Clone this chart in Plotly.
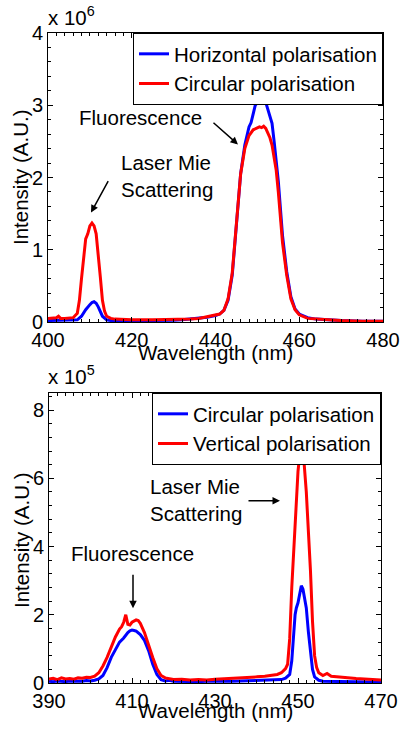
import plotly.graph_objects as go

W, H = 401, 733

# ---------------- Top panel data (intensity in units of 1e6) ----------------
top_wl_h = [400, 401, 402, 403, 404, 405, 406, 407, 408, 409, 410, 410.5, 411, 411.5, 412, 413, 414, 415,
            418, 422, 426, 430, 432, 434, 436, 438, 440, 441, 442, 443, 444, 445, 446, 447, 448, 448.5,
            449, 449.5, 450, 450.5, 451, 451.5, 452, 452.5, 453, 453.5, 454, 454.5, 455, 456, 457, 458,
            459, 460, 462, 464, 466, 470, 475, 480]
top_horizontal = [0.02, 0.02, 0.02, 0.02, 0.02, 0.02, 0.02, 0.03, 0.08, 0.17, 0.24, 0.27, 0.28, 0.26, 0.21,
                  0.08, 0.03, 0.02, 0.015, 0.015, 0.02, 0.025, 0.03, 0.04, 0.05, 0.065, 0.09, 0.11, 0.16,
                  0.3, 0.65, 1.35, 2.05, 2.45, 2.7, 2.76, 2.9, 3.0, 3.04, 3.06, 3.04, 3.06, 3.04, 2.95, 2.85,
                  2.75, 2.5, 2.2, 1.95, 1.2, 0.7, 0.35, 0.18, 0.11, 0.06, 0.04, 0.03, 0.02, 0.01, 0.01]

top_wl_c = [400, 401, 402, 402.5, 403, 404, 405, 406, 407, 407.5, 408, 408.5, 409, 409.5, 410, 410.5, 411,
            411.5, 412, 412.5, 413, 413.5, 414, 415, 416, 420, 425, 430, 434, 436, 438, 440, 441, 442, 443,
            444, 445, 446, 447, 448, 449, 450, 450.5, 451, 451.5, 452, 453, 453.5, 454, 454.5, 455, 456,
            457, 458, 459, 460, 462, 464, 466, 470, 475, 480]
top_circular = [0.05, 0.05, 0.06, 0.08, 0.05, 0.05, 0.05, 0.06, 0.12, 0.3, 0.6, 0.92, 1.15, 1.22, 1.33, 1.37,
                1.33, 1.22, 0.95, 0.62, 0.3, 0.15, 0.08, 0.05, 0.04, 0.03, 0.03, 0.03, 0.04, 0.05, 0.07,
                0.09, 0.11, 0.16, 0.32, 0.68, 1.4, 2.05, 2.4, 2.58, 2.66, 2.68, 2.7, 2.69, 2.71, 2.68, 2.55,
                2.45, 2.3, 2.1, 1.8, 1.1, 0.65, 0.32, 0.17, 0.1, 0.05, 0.04, 0.03, 0.02, 0.01, 0.01]

# ---------------- Bottom panel data (intensity in units of 1e5) ----------------
bot_wl_c = [390, 391, 392, 393, 394, 395, 396, 397, 398, 399, 400, 401, 402, 403, 404, 405, 406, 407, 408,
            408.5, 409, 409.5, 410, 410.5, 411, 412, 413, 414, 415, 416, 417, 418, 419, 420, 422, 424, 426,
            428, 430, 432, 434, 436, 438, 440, 442, 444, 446, 447, 448, 448.5, 449, 449.3, 449.6, 450,
            450.4, 450.8, 451.2, 451.6, 452, 452.5, 453, 453.5, 454, 455, 456, 458, 460, 462, 465, 468, 470]
bot_circular = [0.05, 0.04, 0.06, 0.05, 0.04, 0.06, 0.05, 0.06, 0.05, 0.07, 0.06, 0.08, 0.12, 0.22, 0.45,
                0.75, 0.98, 1.2, 1.32, 1.42, 1.48, 1.53, 1.55, 1.54, 1.52, 1.42, 1.25, 0.95, 0.55, 0.25,
                0.1, 0.06, 0.08, 0.05, 0.04, 0.05, 0.04, 0.05, 0.04, 0.05, 0.05, 0.06, 0.06, 0.06, 0.07,
                0.08, 0.1, 0.14, 0.25, 0.65, 1.5, 2.0, 2.2, 2.35, 2.6, 2.85, 2.75, 2.5, 2.2, 1.5, 0.85,
                0.4, 0.18, 0.08, 0.05, 0.05, 0.04, 0.04, 0.03, 0.03, 0.02]

bot_wl_v = [390, 391, 392, 393, 394, 395, 396, 397, 398, 399, 400, 401, 402, 403, 404, 405, 406, 407, 407.5,
            408, 408.5, 409, 409.5, 410, 410.5, 411, 411.5, 412, 413, 414, 415, 416, 417, 418, 419, 420,
            422, 424, 426, 428, 430, 432, 434, 436, 438, 440, 442, 444, 445, 446, 447, 447.5, 448, 448.5,
            449, 449.5, 450, 450.5, 450.8, 451, 451.5, 452, 452.5, 453, 453.5, 454, 454.5, 455, 456, 457,
            458, 460, 462, 464, 466, 468, 470]
bot_vertical = [0.12, 0.14, 0.1, 0.15, 0.12, 0.13, 0.11, 0.15, 0.14, 0.17, 0.16, 0.2, 0.3, 0.5, 0.75, 1.05,
                1.35, 1.58, 1.65, 1.78, 2.0, 1.72, 1.7, 1.78, 1.82, 1.85, 1.83, 1.75, 1.48, 1.1, 0.75,
                0.42, 0.22, 0.15, 0.12, 0.1, 0.11, 0.09, 0.1, 0.09, 0.11, 0.12, 0.13, 0.14, 0.16, 0.18,
                0.2, 0.22, 0.25, 0.3, 0.42, 0.55, 1.3, 2.8, 4.0, 5.2, 6.2, 6.8, 6.85, 6.75, 6.4, 5.6, 4.5,
                3.3, 1.8, 0.8, 0.45, 0.3, 0.22, 0.28, 0.2, 0.17, 0.15, 0.13, 0.12, 0.1, 0.09]

top_xticks = [400, 420, 440, 460, 480]
top_yticks = [0, 1, 2, 3, 4]
bot_xticks = [390, 410, 430, 450, 470]
bot_yticks = [0, 2, 4, 6, 8]

BLUE = "#0000FF"
RED = "#FF0000"
FONT = "Liberation Sans, Arial, sans-serif"
FS = 20


def px(xp):
    return xp / W


def py(yp):
    return 1 - yp / H


fig = go.Figure()

fig.add_trace(go.Scatter(x=top_wl_h, y=top_horizontal, mode="lines", name="Horizontal polarisation",
                         line=dict(color=BLUE, width=3), xaxis="x", yaxis="y", legend="legend"))
fig.add_trace(go.Scatter(x=top_wl_c, y=top_circular, mode="lines", name="Circular polarisation",
                         line=dict(color=RED, width=3), xaxis="x", yaxis="y", legend="legend"))
fig.add_trace(go.Scatter(x=bot_wl_c, y=bot_circular, mode="lines", name="Circular polarisation",
                         line=dict(color=BLUE, width=3), xaxis="x2", yaxis="y2", legend="legend2"))
fig.add_trace(go.Scatter(x=bot_wl_v, y=bot_vertical, mode="lines", name="Vertical polarisation",
                         line=dict(color=RED, width=3), xaxis="x2", yaxis="y2", legend="legend2"))

axis_common = dict(showline=True, linecolor="black", linewidth=1, mirror="ticks", ticks="inside",
                   ticklen=5, tickcolor="black", showgrid=False, zeroline=False, automargin=False,
                   tickfont=dict(family=FONT, size=FS, color="black"))

legend_common = dict(xanchor="right", yanchor="top", bgcolor="white", bordercolor="black",
                     borderwidth=1, font=dict(family=FONT, size=20.5, color="black"),
                     itemwidth=30, tracegroupgap=0)

fig.update_layout(
    template="none",
    width=W, height=H,
    margin=dict(l=0, r=0, t=0, b=0, autoexpand=False),
    paper_bgcolor="white", plot_bgcolor="white",
    font=dict(family=FONT, size=FS, color="black"),
    xaxis=dict(domain=[px(48), px(383)], range=[400, 480], tickvals=top_xticks, anchor="y",
               minor=dict(ticks="inside", ticklen=3, dtick=2, tickcolor="black"), **axis_common),
    yaxis=dict(domain=[py(322), py(33)], range=[0, 4], tickvals=top_yticks, anchor="x",
               minor=dict(ticks="inside", ticklen=3, dtick=0.2, tickcolor="black"), **axis_common),
    xaxis2=dict(domain=[px(49), px(381)], range=[390, 470], tickvals=bot_xticks, anchor="y2",
                minor=dict(ticks="inside", ticklen=3, dtick=2, tickcolor="black"), **axis_common),
    yaxis2=dict(domain=[py(683), py(393)], range=[0, 8.5], tickvals=bot_yticks, anchor="x2",
                minor=dict(ticks="inside", ticklen=3, dtick=0.4, tickcolor="black"), **axis_common),
    legend=dict(x=px(383), y=py(33), **legend_common),
    legend2=dict(x=px(381), y=py(393), **legend_common),
)

A = dict(font=dict(family=FONT, size=20.5, color="black"))
ann = []
# axis titles
ann.append(dict(text="Wavelength (nm)", xref="paper", yref="paper", x=px(215), y=py(352),
                showarrow=False, xanchor="center", yanchor="middle", **A))
ann.append(dict(text="Wavelength (nm)", xref="paper", yref="paper", x=px(215), y=py(710),
                showarrow=False, xanchor="center", yanchor="middle", **A))
ann.append(dict(text="Intensity (A.U.)", xref="paper", yref="paper", x=px(20), y=py(177),
                showarrow=False, xanchor="center", yanchor="middle", textangle=-90, **A))
ann.append(dict(text="Intensity (A.U.)", xref="paper", yref="paper", x=px(21), y=py(540),
                showarrow=False, xanchor="center", yanchor="middle", textangle=-90, **A))
# exponent labels
ann.append(dict(text="x 10<sup>6</sup>", xref="paper", yref="paper", x=px(46), y=py(31),
                showarrow=False, xanchor="left", yanchor="bottom", **A))
ann.append(dict(text="x 10<sup>5</sup>", xref="paper", yref="paper", x=px(46), y=py(390),
                showarrow=False, xanchor="left", yanchor="bottom", **A))
# top annotations
ann.append(dict(text="Fluorescence", xref="x", yref="y", x=422.2, y=2.833, showarrow=False,
                xanchor="center", yanchor="middle", **A))
ann.append(dict(text="", xref="x", yref="y", x=445.37, y=2.458, ax=-26, ay=-23, showarrow=True,
                arrowhead=2, arrowsize=1, arrowwidth=1.5, arrowcolor="black"))
ann.append(dict(text="Laser Mie<br>Scattering", xref="x", yref="y", x=416.9, y=2.02, showarrow=False,
                xanchor="left", yanchor="middle", align="left", **A))
ann.append(dict(text="", xref="x", yref="y", x=410.27, y=1.514, ax=18, ay=-33, showarrow=True,
                arrowhead=2, arrowsize=1, arrowwidth=1.5, arrowcolor="black"))
# bottom annotations
ann.append(dict(text="Laser Mie<br>Scattering", xref="x2", yref="y2", x=413.86, y=5.36, showarrow=False,
                xanchor="left", yanchor="middle", align="left", **A))
ann.append(dict(text="", xref="x2", yref="y2", x=445.66, y=5.343, ax=-33, ay=0, showarrow=True,
                arrowhead=2, arrowsize=1, arrowwidth=1.5, arrowcolor="black"))
ann.append(dict(text="Fluorescence", xref="x2", yref="y2", x=410.1, y=3.8, showarrow=False,
                xanchor="center", yanchor="middle", **A))
ann.append(dict(text="", xref="x2", yref="y2", x=410.24, y=2.19, ax=0, ay=-35, showarrow=True,
                arrowhead=2, arrowsize=1, arrowwidth=1.5, arrowcolor="black"))

fig.update_layout(annotations=ann)

fig.write_html("out.html", config={"displayModeBar": False},
               post_script="document.body.style.margin='0';document.body.style.overflow='hidden';")
